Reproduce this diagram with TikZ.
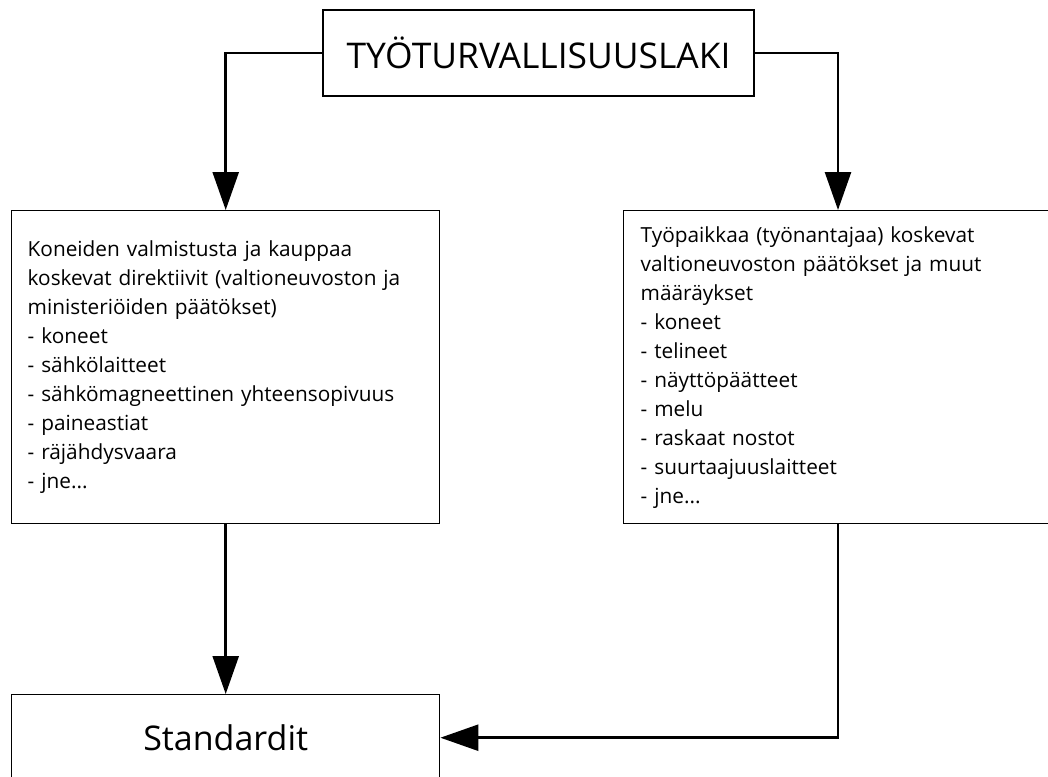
\documentclass[tikz,border=0pt]{standalone}
\usepackage{fontspec}
\setmainfont{Open Sans}
\usetikzlibrary{arrows.meta}
\begin{document}
\begin{tikzpicture}[x=1pt,y=-1pt,
	laatikko/.style={draw,line width=1.4pt,rectangle,inner sep=0pt},
	lista/.style={laatikko,align=left,inner xsep=16pt,minimum height=313pt,font=\fontsize{20.8}{29}\selectfont},
	nuoli/.style={line width=2.6pt,-{Triangle[length=38pt,width=26pt]}}]
	\clip (0,0) rectangle (1048,776);
	\node[laatikko,minimum width=431pt,minimum height=86pt,font=\fontsize{35.4}{40}\selectfont] (laki) at (538.5,53) {TYÖTURVALLISUUSLAKI};
	\node[lista,anchor=north west,text width=396pt] (koneet) at (11,210) {Koneiden valmistusta ja kauppaa\\koskevat direktiivit (valtioneuvoston ja\\ministeriöiden päätökset)\\- koneet\\- sähkölaitteet\\- sähkömagneettinen yhteensopivuus\\- paineastiat\\- räjähdysvaara\\- jne...};
	\node[lista,anchor=north west,text width=420pt,inner xsep=17pt] (tyopaikka) at (623,210) {Työpaikkaa (työnantajaa) koskevat\\valtioneuvoston päätökset ja muut\\määräykset\\- koneet\\- telineet\\- näyttöpäätteet\\- melu\\- raskaat nostot\\- suurtaajuuslaitteet\\- jne...};
	\node[laatikko,anchor=north west,minimum width=428pt,minimum height=86pt,font=\fontsize{34}{40}\selectfont] (standardit) at (11,694) {Standardit};
	\coordinate (oikea) at (838,0);
	%nuolet
	\draw[nuoli] (laki.west) -| (koneet.north);
	\draw[nuoli] (laki.east) -| (tyopaikka.north -| oikea);
	\draw[nuoli] (koneet.south) -- (standardit.north);
	\draw[nuoli] (tyopaikka.south -| oikea) |- (standardit.east);
\end{tikzpicture}
\end{document}
